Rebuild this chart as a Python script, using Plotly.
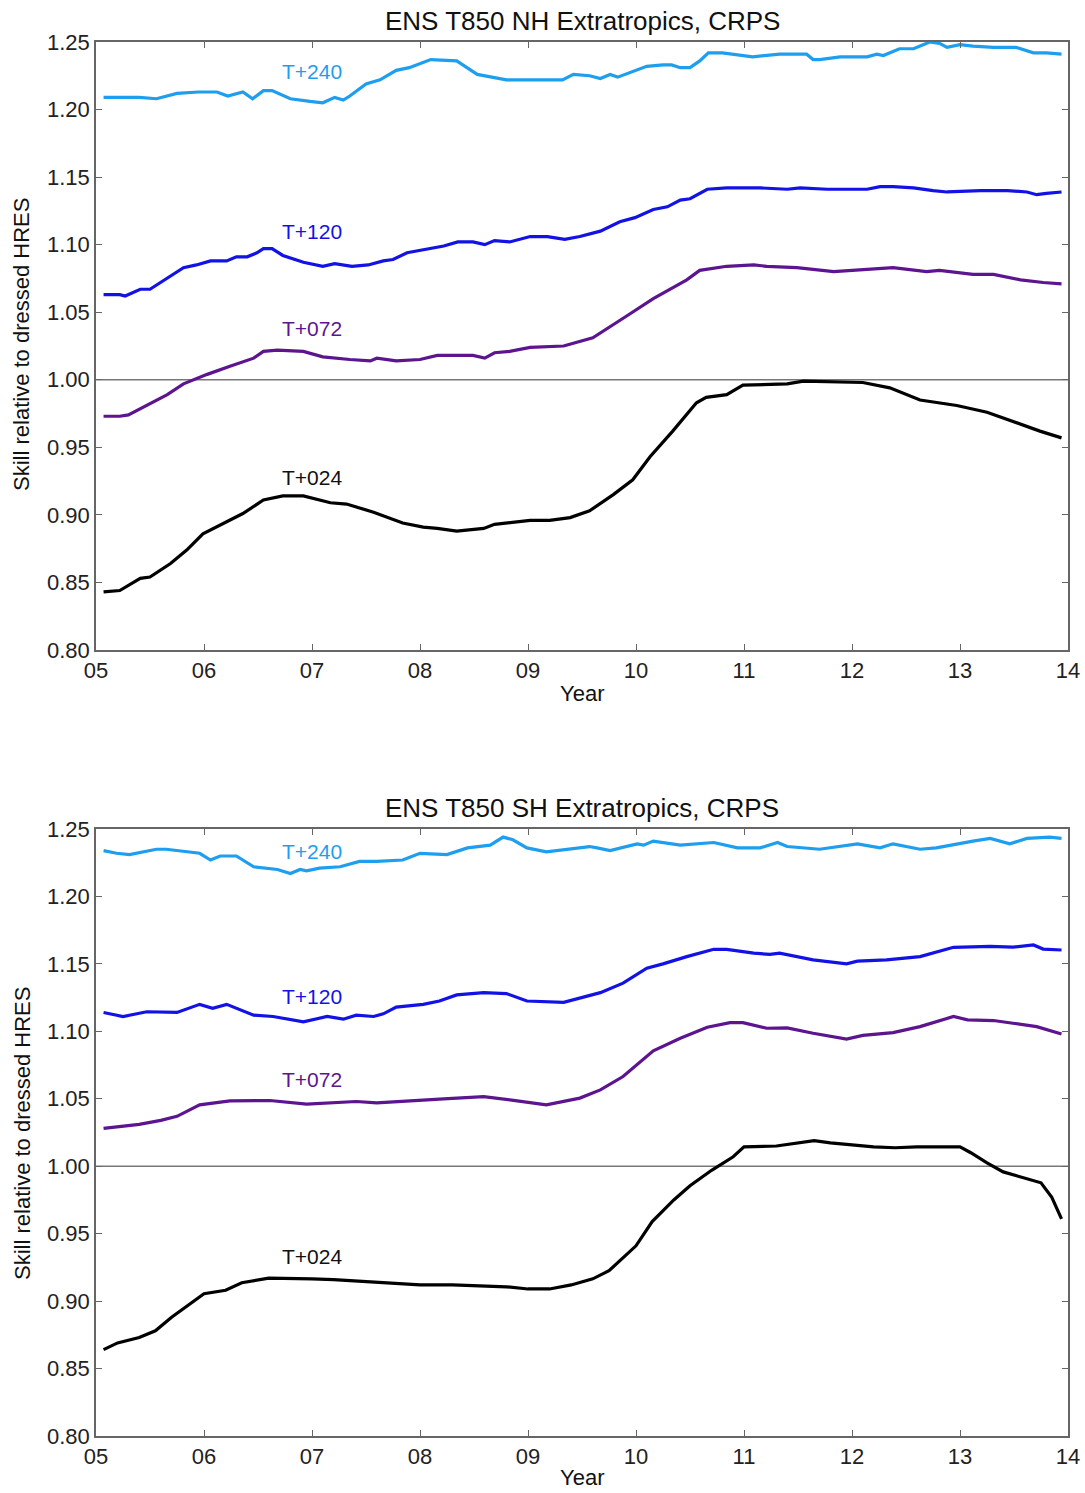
import plotly.graph_objects as go

# ---------------- data ----------------
year_ticks = [5, 6, 7, 8, 9, 10, 11, 12, 13, 14]
year_labels = ["05", "06", "07", "08", "09", "10", "11", "12", "13", "14"]
y_ticks = [0.80, 0.85, 0.90, 0.95, 1.00, 1.05, 1.10, 1.15, 1.20, 1.25]

# NH Extratropics
nh_t240_x = [5.07,5.22,5.4,5.56,5.75,5.95,6.12,6.22,6.36,6.45,6.55,6.63,6.8,6.98,7.1,7.21,7.29,7.35,7.5,7.63,
             7.78,7.9,8.1,8.34,8.53,8.8,9.08,9.32,9.42,9.57,9.67,9.76,9.83,10.1,10.25,10.33,10.41,10.5,10.59,10.67,
             10.8,11.08,11.33,11.58,11.64,11.7,11.89,12.14,12.23,12.29,12.44,12.57,12.72,12.81,12.88,13.0,13.12,13.31,13.52,13.68,
             13.8,13.94]
nh_t240_y = [1.209,1.209,1.209,1.208,1.212,1.213,1.213,1.210,1.213,1.208,1.214,1.214,1.208,1.206,1.205,1.209,1.207,1.210,1.219,1.222,
             1.229,1.231,1.237,1.236,1.226,1.222,1.222,1.222,1.226,1.225,1.223,1.226,1.224,1.232,1.233,1.233,1.231,1.231,1.236,1.242,
             1.242,1.239,1.241,1.241,1.237,1.237,1.239,1.239,1.241,1.240,1.245,1.245,1.250,1.249,1.246,1.248,1.247,1.246,1.246,1.242,
             1.242,1.241]

nh_t120_x = [5.07,5.22,5.27,5.41,5.5,5.62,5.81,5.93,6.06,6.21,6.3,6.4,6.49,6.55,6.63,6.73,6.92,7.1,7.21,7.37,
             7.52,7.66,7.75,7.88,8.03,8.22,8.35,8.49,8.6,8.69,8.83,9.02,9.18,9.34,9.48,9.67,9.85,9.99,10.16,10.29,
             10.41,10.5,10.66,10.84,11.15,11.4,11.52,11.77,12.14,12.26,12.38,12.57,12.75,12.88,13.19,13.44,13.62,13.71,13.8,13.94]
nh_t120_y = [1.063,1.063,1.062,1.067,1.067,1.073,1.083,1.085,1.088,1.088,1.091,1.091,1.094,1.097,1.097,1.092,1.087,1.084,1.086,1.084,
             1.085,1.088,1.089,1.094,1.096,1.099,1.102,1.102,1.100,1.103,1.102,1.106,1.106,1.104,1.106,1.110,1.117,1.120,1.126,1.128,
             1.133,1.134,1.141,1.142,1.142,1.141,1.142,1.141,1.141,1.143,1.143,1.142,1.140,1.139,1.140,1.140,1.139,1.137,1.138,1.139]

nh_t072_x = [5.07,5.22,5.3,5.44,5.66,5.81,6.03,6.24,6.46,6.55,6.68,6.92,7.1,7.35,7.54,7.6,7.78,8.0,8.16,8.34,
             8.49,8.6,8.69,8.83,9.02,9.33,9.48,9.6,9.91,10.16,10.47,10.59,10.84,11.09,11.21,11.4,11.49,11.83,12.14,12.38,
             12.69,12.81,13.12,13.31,13.56,13.77,13.94]
nh_t072_y = [0.973,0.973,0.974,0.980,0.989,0.997,1.004,1.010,1.016,1.021,1.022,1.021,1.017,1.015,1.014,1.016,1.014,1.015,1.018,1.018,
             1.018,1.016,1.020,1.021,1.024,1.025,1.028,1.031,1.047,1.060,1.074,1.081,1.084,1.085,1.084,1.083,1.083,1.080,1.082,1.083,
             1.080,1.081,1.078,1.078,1.074,1.072,1.071]

nh_t024_x = [5.07,5.22,5.41,5.5,5.69,5.84,5.99,6.18,6.36,6.55,6.73,6.92,7.17,7.32,7.57,7.84,8.03,8.16,8.34,8.59,
             8.69,9.02,9.2,9.39,9.57,9.79,9.97,10.13,10.34,10.56,10.65,10.84,10.99,11.4,11.55,12.1,12.35,12.63,12.97,13.25,
             13.53,13.74,13.94]
nh_t024_y = [0.843,0.844,0.853,0.854,0.864,0.874,0.886,0.894,0.901,0.911,0.914,0.914,0.909,0.908,0.902,0.894,0.891,0.890,0.888,0.890,
             0.893,0.896,0.896,0.898,0.903,0.915,0.926,0.943,0.962,0.983,0.987,0.989,0.996,0.997,0.999,0.998,0.994,0.985,0.981,0.976,
             0.968,0.962,0.957]

# SH Extratropics
sh_t240_x = [5.07,5.19,5.31,5.56,5.65,5.96,6.06,6.15,6.3,6.46,6.68,6.8,6.89,6.95,7.07,7.26,7.44,7.6,7.84,8.0,
             8.25,8.44,8.65,8.77,8.86,8.99,9.17,9.27,9.42,9.57,9.64,9.76,10.01,10.07,10.16,10.41,10.72,10.94,11.15,11.31,
             11.4,11.7,12.05,12.26,12.38,12.63,12.78,12.97,13.12,13.28,13.46,13.62,13.83,13.94]
sh_t240_y = [1.234,1.232,1.231,1.235,1.235,1.232,1.227,1.230,1.230,1.222,1.220,1.217,1.220,1.219,1.221,1.222,1.226,1.226,1.227,1.232,
             1.231,1.236,1.238,1.244,1.242,1.236,1.233,1.234,1.235,1.237,1.236,1.234,1.239,1.238,1.241,1.238,1.240,1.236,1.236,1.240,
             1.237,1.235,1.239,1.236,1.239,1.235,1.236,1.239,1.241,1.243,1.239,1.243,1.244,1.243]

sh_t120_x = [5.07,5.25,5.47,5.62,5.75,5.96,6.08,6.21,6.46,6.64,6.92,7.14,7.29,7.41,7.57,7.66,7.78,8.03,8.18,8.34,
             8.59,8.8,8.99,9.33,9.48,9.67,9.88,10.1,10.25,10.47,10.72,10.84,11.09,11.24,11.33,11.64,11.95,12.05,12.32,12.63,
             12.94,13.28,13.49,13.68,13.77,13.94]
sh_t120_y = [1.114,1.111,1.1145,1.114,1.114,1.120,1.117,1.120,1.112,1.111,1.107,1.111,1.109,1.112,1.111,1.113,1.118,1.120,1.1225,1.127,
             1.1287,1.128,1.1225,1.1215,1.1245,1.1287,1.1357,1.1468,1.150,1.1554,1.1608,1.1608,1.158,1.157,1.158,1.153,1.150,1.152,1.153,1.1554,
             1.1623,1.163,1.1624,1.164,1.161,1.1603]

sh_t072_x = [5.07,5.2,5.4,5.6,5.75,5.96,6.24,6.61,6.95,7.41,7.6,8.22,8.59,8.9,9.17,9.48,9.67,9.88,10.16,10.41,
             10.66,10.87,10.99,11.21,11.4,11.64,11.95,12.1,12.38,12.63,12.94,13.07,13.31,13.49,13.71,13.94]
sh_t072_y = [1.028,1.029,1.031,1.034,1.037,1.0455,1.0485,1.0487,1.046,1.048,1.047,1.050,1.0516,1.0485,1.0455,1.0505,1.0566,1.0665,1.0855,1.0949,
             1.103,1.1065,1.1065,1.1023,1.1025,1.0986,1.0942,1.097,1.099,1.1035,1.111,1.1085,1.108,1.106,1.1035,1.098]

sh_t024_x = [5.07,5.2,5.4,5.55,5.7,5.85,6.0,6.2,6.35,6.6,6.8,7.0,7.2,7.5,7.8,8.0,8.3,8.6,8.8,9.0,
             9.2,9.4,9.6,9.75,9.9,10.0,10.15,10.35,10.5,10.7,10.9,11.0,11.3,11.5,11.65,11.8,12.0,12.2,12.4,12.6,
             12.8,13.0,13.1,13.25,13.4,13.6,13.75,13.85,13.94]
sh_t024_y = [0.864,0.869,0.873,0.878,0.888,0.897,0.9055,0.908,0.9136,0.917,0.917,0.9165,0.916,0.9145,0.913,0.912,0.912,0.911,0.9106,0.909,
             0.909,0.912,0.9165,0.9225,0.9336,0.941,0.959,0.975,0.9855,0.997,1.007,1.0144,1.015,1.0173,1.019,1.0173,1.016,1.0144,1.0137,1.0144,
             1.0144,1.0144,1.010,1.0025,0.9958,0.9914,0.9877,0.977,0.961]

series_names = ["T+240", "T+120", "T+072", "T+024"]
series_colors = ["#1E9EEE", "#1212E6", "#5C148F", "#000000"]
nh_series = [(nh_t240_x, nh_t240_y), (nh_t120_x, nh_t120_y), (nh_t072_x, nh_t072_y), (nh_t024_x, nh_t024_y)]
sh_series = [(sh_t240_x, sh_t240_y), (sh_t120_x, sh_t120_y), (sh_t072_x, sh_t072_y), (sh_t024_x, sh_t024_y)]

# label anchor positions (data coords)
label_x = 7.0
nh_label_y = [1.228, 1.110, 1.038, 0.928]
sh_label_y = [1.233, 1.1255, 1.064, 0.933]

titles = ["ENS T850 NH Extratropics, CRPS", "ENS T850 SH Extratropics, CRPS"]
y_title = "Skill relative to dressed HRES"
x_title = "Year"

# ---------------- figure ----------------
FONT = "Liberation Sans, Arial, Helvetica, sans-serif"
W, H = 1085, 1493
ML, MR, MT, MB = 96, W - 1068, 42, H - 1436
PH = H - MT - MB
PW = W - ML - MR

def py(pix):
    # page pixel -> paper coordinate
    return 1 - (pix - MT) / PH

def px(pix):
    return (pix - ML) / PW

fig = go.Figure()

for panel, series in enumerate([nh_series, sh_series]):
    xa = "x" if panel == 0 else "x2"
    ya = "y" if panel == 0 else "y2"
    for (xs, ys), name, col in zip(series, series_names, series_colors):
        assert len(xs) == len(ys)
        fig.add_trace(go.Scatter(x=xs, y=ys, mode="lines", name=name,
                                 line=dict(color=col, width=3.2),
                                 xaxis=xa, yaxis=ya, showlegend=False))

axis_common = dict(showline=True, linecolor="#666", linewidth=1.5, mirror="allticks",
                   ticks="inside", ticklen=6, tickwidth=1.2, tickcolor="#666",
                   showgrid=False, zeroline=False,
                   tickfont=dict(family=FONT, size=22, color="#222"))

xaxis_cfg = dict(range=[5, 14], tickvals=year_ticks, ticktext=year_labels, **axis_common)
yaxis_cfg = dict(range=[0.80, 1.25], tickvals=y_ticks, tickformat=".2f", ticklabelstandoff=0, **axis_common)

top_dom = [py(650), 1.0]
bot_dom = [0.0, py(829)]

fig.update_layout(
    width=W, height=H,
    margin=dict(l=ML, r=MR, t=MT, b=MB, autoexpand=False),
    paper_bgcolor="white", plot_bgcolor="white",
    xaxis=dict(domain=[0, 1], anchor="y", **xaxis_cfg),
    yaxis=dict(domain=top_dom, anchor="x", **yaxis_cfg),
    xaxis2=dict(domain=[0, 1], anchor="y2", **xaxis_cfg),
    yaxis2=dict(domain=bot_dom, anchor="x2", **yaxis_cfg),
)

# reference line at 1.00
for xr, yr in [("x domain", "y"), ("x2 domain", "y2")]:
    fig.add_shape(type="line", xref=xr, yref=yr, x0=0, x1=1, y0=1.0, y1=1.0,
                  line=dict(color="#777", width=1.5), layer="below")

# curve labels
for panel, ly in enumerate([nh_label_y, sh_label_y]):
    xr = "x" if panel == 0 else "x2"
    yr = "y" if panel == 0 else "y2"
    for name, col, yv in zip(series_names, series_colors, ly):
        fig.add_annotation(x=label_x, y=yv, xref=xr, yref=yr, text=name, showarrow=False,
                           font=dict(family=FONT, size=21, color=col if col != "#000000" else "#111"),
                           xanchor="center", yanchor="middle")

# titles and axis titles
for i, (ty, yt_pix, xt_pix) in enumerate([(21, (198 + 492) / 2, 693), (808, (988 + 1280) / 2, 1478)]):
    fig.add_annotation(x=px(582), y=py(ty), xref="paper", yref="paper", text=titles[i], showarrow=False,
                       font=dict(family=FONT, size=26, color="#111"), xanchor="center", yanchor="middle")
    fig.add_annotation(x=px(22), y=py(yt_pix), xref="paper", yref="paper", text=y_title, showarrow=False,
                       textangle=-90, font=dict(family=FONT, size=22, color="#111"),
                       xanchor="center", yanchor="middle")
    fig.add_annotation(x=px(582), y=py(xt_pix), xref="paper", yref="paper", text=x_title, showarrow=False,
                       font=dict(family=FONT, size=22, color="#111"), xanchor="center", yanchor="middle")

# remove the default page margin so the figure sits at the window origin; hide the modebar
fig.write_html("out.html",
               config={"displayModeBar": False},
               post_script="document.body.style.margin='0';document.documentElement.style.overflow='hidden';")
